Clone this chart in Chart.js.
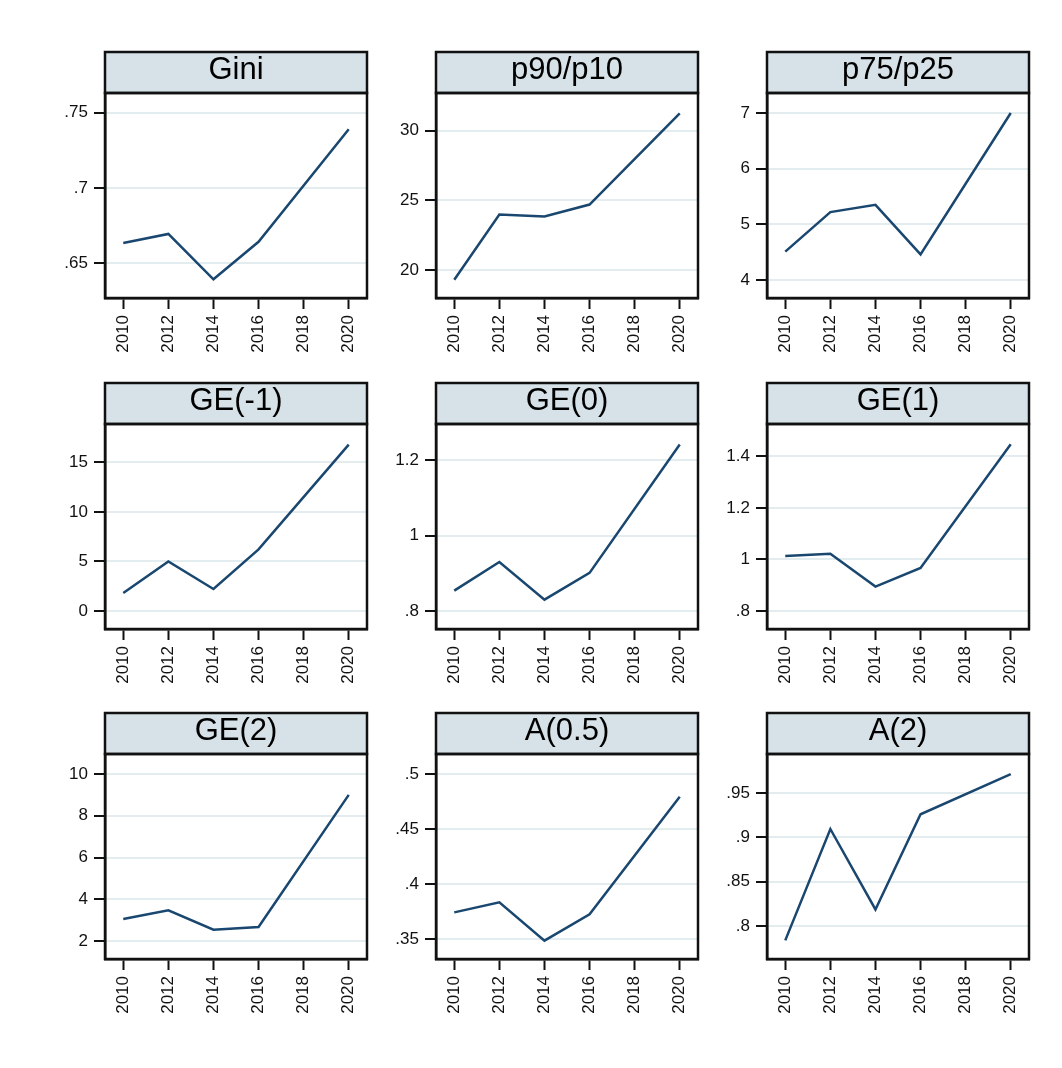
<!DOCTYPE html>
<html>
<head>
<meta charset="utf-8">
<title>Inequality measures, 2010–2020</title>
<script src="https://cdn.jsdelivr.net/npm/chart.js@4.4.1/dist/chart.umd.min.js"></script>
<style>
  html, body { margin: 0; padding: 0; background: #ffffff; }
  #wrap { position: relative; width: 1062px; height: 1068px; background: #ffffff; }
  #wrap canvas { position: absolute; }
</style>
</head>
<body>
<div id="wrap"></div>
<script>
// ---- data ----
const years = [2010, 2012, 2014, 2016, 2020];
const yearTicks = [2010, 2012, 2014, 2016, 2018, 2020];

const panelTitles = ['Gini', 'p90/p10', 'p75/p25', 'GE(-1)', 'GE(0)', 'GE(1)', 'GE(2)', 'A(0.5)', 'A(2)'];

const gini   = [0.6635, 0.6695, 0.6394, 0.6643, 0.739];
const p90p10 = [19.33, 24.0, 23.85, 24.71, 31.24];
const p75p25 = [4.51, 5.22, 5.35, 4.46, 7.0];
const geM1   = [1.82, 5.0, 2.22, 6.21, 16.79];
const ge0    = [0.854, 0.930, 0.830, 0.901, 1.241];
const ge1    = [1.013, 1.022, 0.895, 0.967, 1.447];
const ge2    = [3.05, 3.47, 2.54, 2.67, 9.0];
const a05    = [0.3745, 0.3836, 0.3488, 0.3727, 0.4793];
const a2     = [0.7838, 0.9094, 0.8187, 0.926, 0.9714];

// y tick values per panel
const giniTicks   = [0.65, 0.7, 0.75];
const p90p10Ticks = [20, 25, 30];
const p75p25Ticks = [4, 5, 6, 7];
const geM1Ticks   = [0, 5, 10, 15];
const ge0Ticks    = [0.8, 1, 1.2];
const ge1Ticks    = [0.8, 1, 1.2, 1.4];
const ge2Ticks    = [2, 4, 6, 8, 10];
const a05Ticks    = [0.35, 0.4, 0.45, 0.5];
const a2Ticks     = [0.8, 0.85, 0.9, 0.95];

// y axis extents per panel
const giniRange   = [0.627, 0.763];
const p90p10Range = [18.02, 32.69];
const p75p25Range = [3.677, 7.36];
const geM1Range   = [-1.82, 18.87];
const ge0Range    = [0.7523, 1.2954];
const ge1Range    = [0.7302, 1.5257];
const ge2Range    = [1.138, 10.96];
const a05Range    = [0.3322, 0.5181];
const a2Range     = [0.7628, 0.994];

const xRange = [2009.19, 2020.81];

const panelSeries = [gini, p90p10, p75p25, geM1, ge0, ge1, ge2, a05, a2];
const panelTicks  = [giniTicks, p90p10Ticks, p75p25Ticks, geM1Ticks, ge0Ticks, ge1Ticks, ge2Ticks, a05Ticks, a2Ticks];
const panelRanges = [giniRange, p90p10Range, p75p25Range, geM1Range, ge0Range, ge1Range, ge2Range, a05Range, a2Range];

// ---- layout ----
const colLeft = [105, 436, 767];
const rowTop  = [52, 383, 713];
const plotW = 262, plotH = 205, stripH = 41;
const yAxisW = 62, xAxisH = 64, padTop = 2, padRight = 6, padBottom = 2;

const FONT = '"Liberation Sans", Arial, Helvetica, sans-serif';
const INK = '#111111';
const LINE = '#1a476f';
const STRIP = '#d6e2e7';
const GRID = '#e3ecef';

// Stata-style numbers: no leading zero
function fmt(v) {
  let s = String(Math.round(v * 1000) / 1000);
  if (s.startsWith('0.')) s = s.slice(1);
  if (s.startsWith('-0.')) s = '-' + s.slice(2);
  return s;
}

// strip behind the title and frame around the plot region
const panelFrame = {
  id: 'panelFrame',
  beforeDraw(chart) {
    const { ctx, chartArea: a } = chart;
    const tb = chart.titleBlock;
    const top = tb.top, h = a.top - tb.top;
    ctx.save();
    ctx.fillStyle = STRIP;
    ctx.fillRect(a.left, top, a.right - a.left, h);
    ctx.lineWidth = 2.5;
    ctx.strokeStyle = INK;
    ctx.strokeRect(a.left, top, a.right - a.left, h);
    ctx.restore();
  },
  afterDraw(chart) {
    const { ctx, chartArea: a } = chart;
    ctx.save();
    ctx.lineWidth = 2.5;
    ctx.strokeStyle = INK;
    ctx.strokeRect(a.left, a.top, a.right - a.left, a.bottom - a.top);
    ctx.restore();
  }
};

const wrap = document.getElementById('wrap');

panelTitles.forEach((title, i) => {
  const col = i % 3, row = Math.floor(i / 3);
  const canvas = document.createElement('canvas');
  const w = yAxisW + plotW + padRight;
  const h = padTop + stripH + plotH + xAxisH + padBottom;
  canvas.width = w;
  canvas.height = h;
  canvas.style.width = w + 'px';
  canvas.style.height = h + 'px';
  canvas.style.left = (colLeft[col] - yAxisW) + 'px';
  canvas.style.top = (rowTop[row] - padTop) + 'px';
  wrap.appendChild(canvas);

  const series = panelSeries[i];
  const yt = panelTicks[i];
  const yr = panelRanges[i];

  new Chart(canvas, {
    type: 'line',
    data: {
      datasets: [{
        data: years.map((yv, k) => ({ x: yv, y: series[k] })),
        borderColor: LINE,
        borderWidth: 2.5,
        pointRadius: 0,
        tension: 0,
        fill: false
      }]
    },
    options: {
      responsive: false,
      devicePixelRatio: 1,
      animation: false,
      events: [],
      layout: { padding: { top: padTop, right: padRight, bottom: padBottom, left: 0 } },
      plugins: {
        legend: { display: false },
        tooltip: { enabled: false },
        title: {
          display: true,
          text: title,
          fullSize: false,
          color: '#000000',
          font: { family: FONT, size: 31, weight: 'normal', lineHeight: 1.1 },
          padding: { top: 1, bottom: 5.9 }
        }
      },
      scales: {
        x: {
          type: 'linear',
          position: 'bottom',
          min: xRange[0],
          max: xRange[1],
          afterBuildTicks: s => { s.ticks = yearTicks.map(v => ({ value: v })); },
          afterFit: s => { s.height = xAxisH; s.paddingLeft = 0; s.paddingRight = 0; },
          grid: {
            drawOnChartArea: false,
            drawTicks: true,
            tickLength: 11,
            tickColor: INK,
            tickWidth: 2
          },
          border: { display: true, color: INK, width: 2.5 },
          ticks: {
            autoSkip: false,
            minRotation: 90,
            maxRotation: 90,
            padding: 6,
            color: INK,
            font: { family: FONT, size: 17 },
            callback: v => String(v)
          }
        },
        y: {
          type: 'linear',
          position: 'left',
          min: yr[0],
          max: yr[1],
          afterBuildTicks: s => { s.ticks = yt.map(v => ({ value: v })); },
          afterFit: s => { s.width = yAxisW; s.paddingTop = 0; s.paddingBottom = 0; },
          grid: {
            color: GRID,
            lineWidth: 2,
            drawTicks: true,
            tickLength: 11,
            tickColor: INK,
            tickWidth: 2
          },
          border: { display: true, color: INK, width: 2.5 },
          ticks: {
            autoSkip: false,
            padding: 6,
            color: INK,
            font: { family: FONT, size: 17 },
            callback: v => fmt(v)
          }
        }
      }
    },
    plugins: [panelFrame]
  });
});
</script>
</body>
</html>
